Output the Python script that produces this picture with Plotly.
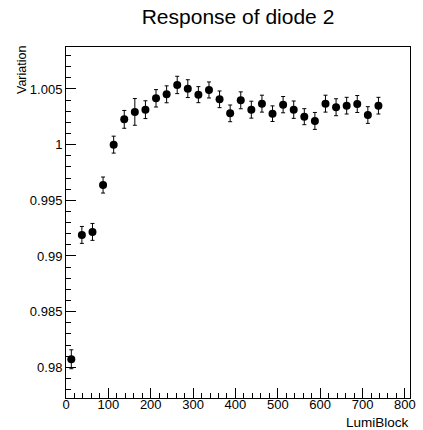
import plotly.graph_objects as go

lumi_block = [12.5, 37.5, 62.5, 87.5, 112.5, 137.5, 162.5, 187.5, 212.5, 237.5,
              262.5, 287.5, 312.5, 337.5, 362.5, 387.5, 412.5, 437.5, 462.5, 487.5,
              512.5, 537.5, 562.5, 587.5, 612.5, 637.5, 662.5, 687.5, 712.5, 737.5]
variation = [0.98072, 0.99189, 0.99216, 0.99637, 1.00000, 1.00227, 1.00294, 1.00314, 1.00416, 1.00452,
             1.00536, 1.00503, 1.00449, 1.00491, 1.00407, 1.00281, 1.00398, 1.00314, 1.00368, 1.00278,
             1.00359, 1.00314, 1.00251, 1.00213, 1.00368, 1.00336, 1.00350, 1.00365, 1.00266, 1.00350]
errors = [0.00085, 0.00076, 0.00076, 0.00072, 0.00076, 0.00080, 0.00120, 0.00080, 0.00078, 0.00076,
          0.00078, 0.00080, 0.00072, 0.00072, 0.00075, 0.00075, 0.00076, 0.00076, 0.00076, 0.00070,
          0.00073, 0.00078, 0.00072, 0.00076, 0.00076, 0.00076, 0.00075, 0.00076, 0.00075, 0.00075]

x_ticks = [0, 100, 200, 300, 400, 500, 600, 700, 800]
y_tickvals = [0.98, 0.985, 0.99, 0.995, 1.0, 1.005]
y_ticktext = ["0.98", "0.985", "0.99", "0.995", "1", "1.005"]

FONT = "Liberation Sans, Arial, Helvetica, sans-serif"

fig = go.Figure()
fig.add_trace(go.Scatter(
    x=lumi_block, y=variation, mode="markers",
    marker=dict(color="black", size=8, symbol="circle"),
    error_y=dict(type="data", array=errors, visible=True, color="black", thickness=1, width=2),
    showlegend=False,
))

fig.update_layout(
    width=423, height=430,
    margin=dict(l=66, r=7, t=47, b=32),
    paper_bgcolor="white", plot_bgcolor="white",
    font=dict(family=FONT, size=13, color="black"),
    title=dict(text="Response of diode 2", x=0.5, xref="paper", y=1 - 17 / 430,
               yref="container", xanchor="center", yanchor="middle",
               font=dict(family=FONT, size=21, color="black")),
    xaxis=dict(range=[0, 812], tickvals=x_ticks, ticks="inside", ticklen=10, tickwidth=1,
               tickcolor="black", showline=True, linecolor="black", linewidth=1, mirror=True,
               showgrid=False, zeroline=False, ticklabelstandoff=-6,
               minor=dict(dtick=20, ticks="inside", ticklen=5, tickcolor="black", showgrid=False),
               tickfont=dict(size=13)),
    yaxis=dict(range=[0.97724, 1.00877], tickvals=y_tickvals, ticktext=y_ticktext,
               ticks="inside", ticklen=10, tickwidth=1, tickcolor="black",
               showline=True, linecolor="black", linewidth=1, mirror=True,
               showgrid=False, zeroline=False,
               minor=dict(dtick=0.001, tick0=0.98, ticks="inside", ticklen=5, tickcolor="black", showgrid=False),
               tickfont=dict(size=13)),
    annotations=[
        dict(text="Variation", textangle=-90, xref="paper", yref="paper",
             x=0, y=1, xanchor="right", yanchor="top", xshift=-35, yshift=3,
             showarrow=False, font=dict(family=FONT, size=12.5, color="black")),
        dict(text="LumiBlock", xref="paper", yref="paper", x=1, y=0,
             xanchor="right", yanchor="top", xshift=1, yshift=-15,
             showarrow=False, font=dict(family=FONT, size=13.5, color="black")),
    ],
)

fig.write_html("out.html", config={"displayModeBar": False},
               post_script="document.body.style.margin='0px';")
